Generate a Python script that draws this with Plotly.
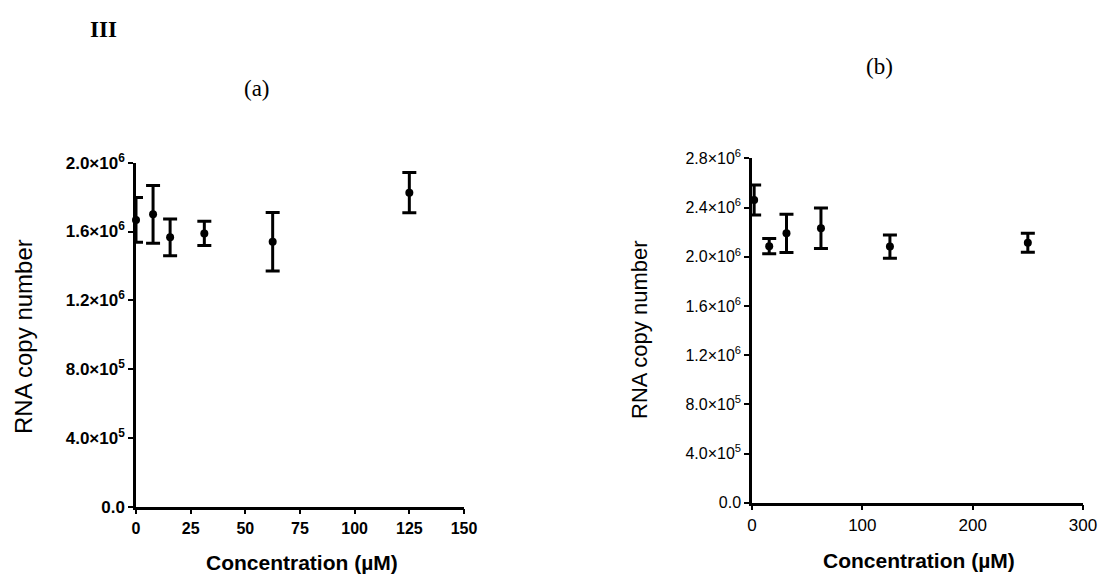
import plotly.graph_objects as go

# Panel (a)
conc_a = [0, 7.8, 15.6, 31.25, 62.5, 125]
mean_a = [1.667e6, 1.70e6, 1.566e6, 1.589e6, 1.541e6, 1.826e6]
err_a = [0.13e6, 0.168e6, 0.107e6, 0.07e6, 0.17e6, 0.117e6]

# Panel (b)
conc_b = [1.95, 15.6, 31.25, 62.5, 125, 250]
mean_b = [2.461e6, 2.085e6, 2.19e6, 2.231e6, 2.082e6, 2.114e6]
err_b = [0.122e6, 0.062e6, 0.155e6, 0.165e6, 0.095e6, 0.077e6]

ytick_a_vals = [0, 4e5, 8e5, 1.2e6, 1.6e6, 2.0e6]
ytick_a_text = ["0.0", "4.0×10<sup>5</sup>", "8.0×10<sup>5</sup>", "1.2×10<sup>6</sup>",
                "1.6×10<sup>6</sup>", "2.0×10<sup>6</sup>"]
ytick_b_vals = [0, 4e5, 8e5, 1.2e6, 1.6e6, 2.0e6, 2.4e6, 2.8e6]
ytick_b_text = ["0.0", "4.0×10<sup>5</sup>", "8.0×10<sup>5</sup>", "1.2×10<sup>6</sup>",
                "1.6×10<sup>6</sup>", "2.0×10<sup>6</sup>", "2.4×10<sup>6</sup>", "2.8×10<sup>6</sup>"]
xtick_a_vals = [0, 25, 50, 75, 100, 125, 150]
xtick_b_vals = [0, 100, 200, 300]

W, H = 1098, 581
SANS = "Liberation Sans, Arial, sans-serif"
SERIF = "Liberation Serif, Times New Roman, serif"

fig = go.Figure()
for xs, ys, es, xa, ya in [(conc_a, mean_a, err_a, "x", "y"), (conc_b, mean_b, err_b, "x2", "y2")]:
    fig.add_trace(go.Scatter(
        x=xs, y=ys, mode="markers", xaxis=xa, yaxis=ya,
        marker=dict(color="black", size=8, symbol="circle"),
        error_y=dict(type="data", array=es, visible=True, color="black", thickness=3, width=7),
        showlegend=False, cliponaxis=False,
    ))


def axis(bold, size):
    return dict(
        showline=True, linecolor="black", linewidth=2.5, ticks="outside", tickcolor="black",
        tickwidth=2, ticklen=5, showgrid=False, zeroline=False, automargin=False,
        tickfont=dict(family=SANS, size=size, color="black", weight="bold" if bold else "normal"),
    )


def ann(text, x, y, size, family=SANS, bold=False, angle=0):
    return dict(text=text, x=x / W, y=1 - y / H, xref="paper", yref="paper",
                xanchor="center", yanchor="middle", showarrow=False, textangle=angle,
                font=dict(family=family, size=size, color="black", weight="bold" if bold else "normal"))


fig.update_layout(
    template="none",
    width=W, height=H,
    margin=dict(l=0, r=0, t=0, b=0, pad=0),
    paper_bgcolor="white", plot_bgcolor="white",
    xaxis=dict(domain=[136 / W, 464 / W], range=[0, 150], tickvals=xtick_a_vals, anchor="y", **axis(True, 16)),
    yaxis=dict(domain=[1 - 506.7 / H, 1 - 162.7 / H], range=[0, 2.0e6], tickvals=ytick_a_vals,
               ticktext=ytick_a_text, anchor="x", **axis(True, 17)),
    xaxis2=dict(domain=[752 / W, 1083 / W], range=[0, 300], tickvals=xtick_b_vals, anchor="y2", **axis(False, 17)),
    yaxis2=dict(domain=[1 - 502.7 / H, 1 - 158.3 / H], range=[0, 2.8e6], tickvals=ytick_b_vals,
                ticktext=ytick_b_text, anchor="x2", **axis(False, 16)),
    annotations=[
        ann("<b>III</b>", 103, 29, 23, SERIF),
        ann("(a)", 257, 88, 23, SERIF),
        ann("(b)", 879, 66, 23, SERIF),
        ann("Concentration (µM)", 302, 562, 21, bold=True),
        ann("Concentration (µM)", 919, 560, 21, bold=True),
        ann("RNA copy number", 24, 337, 24, angle=-90),
        ann("RNA copy number", 639, 330, 22, angle=-90),
    ],
)

fig.write_html("out.html")
